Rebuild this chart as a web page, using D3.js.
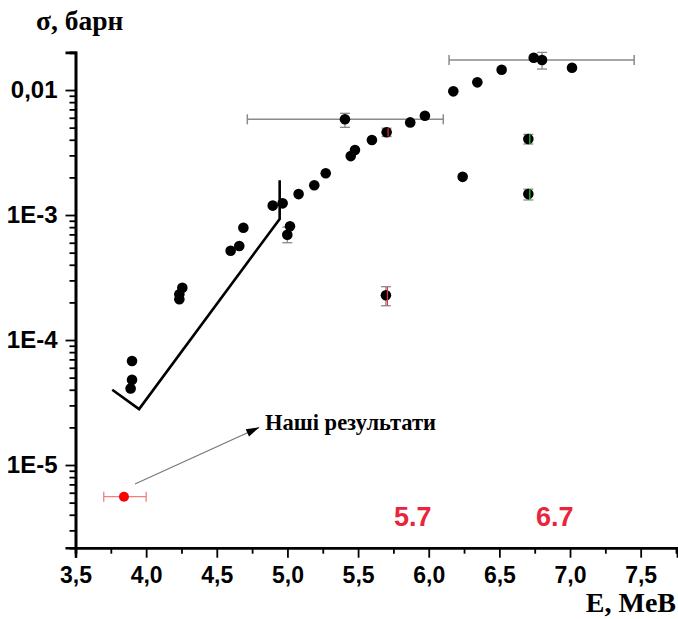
<!DOCTYPE html>
<html><head><meta charset="utf-8">
<script src="https://cdn.jsdelivr.net/npm/d3@7"></script>
<style>
html,body{margin:0;padding:0;background:#fff;}
svg{display:block;}
</style></head>
<body>
<svg id="chart" width="678" height="619"></svg>
<script>
// ---- data ----
const xTickValues = [3.5, 4.0, 4.5, 5.0, 5.5, 6.0, 6.5, 7.0, 7.5];
const xTickLabels = ["3,5", "4,0", "4,5", "5,0", "5,5", "6,0", "6,5", "7,0", "7,5"];
const yTickValues = [1e-5, 1e-4, 1e-3, 1e-2];
const yTickLabels = ["1E-5", "1E-4", "1E-3", "0,01"];

const energy = [3.90, 3.90, 3.89, 4.256, 4.235, 4.235, 4.598, 4.659, 4.688, 4.896, 4.966, 4.999, 5.018, 5.079, 5.19, 5.271,
                5.407, 5.448, 5.478, 5.598, 5.702, 5.869, 5.973, 6.174, 6.344, 6.516, 6.743, 6.802, 7.014, 6.240, 6.705, 6.705, 5.697];
const sigma = [6.8e-5, 4.8e-5, 4.1e-5, 2.62e-4, 2.32e-4, 2.12e-4, 5.18e-4, 5.65e-4, 7.91e-4, 1.19e-3, 1.24e-3, 6.96e-4, 8.12e-4, 1.47e-3, 1.73e-3, 2.16e-3,
               5.83e-3, 2.96e-3, 3.31e-3, 3.98e-3, 4.59e-3, 5.51e-3, 6.23e-3, 9.76e-3, 1.152e-2, 1.454e-2, 1.813e-2, 1.738e-2, 1.508e-2, 2.02e-3, 4.06e-3, 1.47e-3, 2.28e-4];

// vertical error bars: energy, low, high, colour of the bar
const vErrE    = [5.407, 4.999, 5.697, 5.702, 6.705, 6.705, 6.802];
const vErrLow  = [5.03e-3, 6.0e-4, 1.88e-4, 4.25e-3, 3.70e-3, 1.32e-3, 1.472e-2];
const vErrHigh = [6.51e-3, 8.0e-4, 2.67e-4, 4.95e-3, 4.42e-3, 1.61e-3, 2.0e-2];
const vErrColor = ["#888", "#888", "#e8303a", "#e8303a", "#2ecc40", "#2ecc40", "#888"];

// horizontal error bars: sigma, low energy, high energy
const hErrSigma = [5.83e-3, 1.735e-2];
const hErrLow   = [4.716, 6.144];
const hErrHigh  = [6.103, 7.454];

// our result
const ourE = [3.843];
const ourSigma = [5.58e-6];
const ourELow = [3.70];
const ourEHigh = [4.00];

// reference curve (solid black polyline)
const curveE = [3.76, 3.95, 4.945, 4.945];
const curveSigma = [4.0e-5, 2.8e-5, 9.3e-4, 1.9e-3];

// annotation arrow
const arrowE = [3.921, 4.80];
const arrowSigma = [7.05e-6, 2.0e-5];

// ---- chart ----
const svg = d3.select("#chart");
const x = d3.scaleLinear().domain([3.5, 7.76]).range([75.5, 677.4]);
const y = d3.scaleLog().domain([2.18e-6, 0.02]).range([547.7, 52.4]);

const sans = "'Liberation Sans', Arial, sans-serif";
const serif = "'Liberation Serif', 'Times New Roman', serif";

// minor ticks
const yMinor = [];
for (let e = -6; e <= -2; e++) for (let m = 2; m <= 9; m++) {
  const v = m * Math.pow(10, e);
  if (v >= 2.18e-6 && v <= 0.0201) yMinor.push(v);
}
const xMinor = d3.range(3.75, 7.76, 0.5);

const gY = svg.append("g").attr("transform", "translate(75.5,0)");
gY.call(d3.axisLeft(y).tickValues(yMinor).tickSize(6).tickFormat(""));
gY.append("g").call(d3.axisLeft(y).tickValues(yTickValues).tickSize(10).tickPadding(8)
   .tickFormat((d, i) => yTickLabels[i]));
gY.selectAll(".domain").attr("stroke", "#000").attr("stroke-width", 2.6);
gY.selectAll(".tick line").attr("stroke", "#000").attr("stroke-width", 1.8);
gY.selectAll("text").attr("font-family", sans).attr("font-weight", "bold").attr("font-size", 24).attr("fill", "#000");

const gX = svg.append("g").attr("transform", "translate(0,547.7)");
gX.call(d3.axisBottom(x).tickValues(xMinor).tickSize(6).tickFormat(""));
gX.append("g").call(d3.axisBottom(x).tickValues(xTickValues).tickSize(10).tickPadding(9)
   .tickFormat((d, i) => xTickLabels[i]));
gX.selectAll(".domain").attr("stroke", "#000").attr("stroke-width", 2.6);
gX.selectAll(".tick line").attr("stroke", "#000").attr("stroke-width", 1.8);
gX.selectAll("text").attr("font-family", sans).attr("font-weight", "bold").attr("font-size", 23).attr("fill", "#000");

// reference curve
const line = d3.line().x((d, i) => x(curveE[i])).y((d, i) => y(curveSigma[i]));
svg.append("path").datum(curveE).attr("d", line).attr("fill", "none")
  .attr("stroke", "#000").attr("stroke-width", 2.6).attr("stroke-linejoin", "miter");

// horizontal error bars
const hg = svg.append("g").attr("stroke", "#8a8a8a").attr("stroke-width", 1.5);
hErrSigma.forEach((s, i) => {
  const yy = y(s), x0 = x(hErrLow[i]), x1 = x(hErrHigh[i]);
  hg.append("line").attr("x1", x0).attr("x2", x1).attr("y1", yy).attr("y2", yy);
  hg.append("line").attr("x1", x0).attr("x2", x0).attr("y1", yy - 5).attr("y2", yy + 5);
  hg.append("line").attr("x1", x1).attr("x2", x1).attr("y1", yy - 5).attr("y2", yy + 5);
});

// vertical error bar caps (gray) + stems
const vg = svg.append("g");
vErrE.forEach((e, i) => {
  const xx = x(e), y0 = y(vErrLow[i]), y1 = y(vErrHigh[i]);
  vg.append("line").attr("x1", xx).attr("x2", xx).attr("y1", y0).attr("y2", y1)
    .attr("stroke", "#888").attr("stroke-width", 1.3);
  [y0, y1].forEach(c => vg.append("line").attr("x1", xx - 5).attr("x2", xx + 5).attr("y1", c).attr("y2", c)
    .attr("stroke", "#8a8a8a").attr("stroke-width", 1.3));
});

// points
svg.append("g").selectAll("circle").data(energy).join("circle")
  .attr("cx", d => x(d)).attr("cy", (d, i) => y(sigma[i])).attr("r", 5.3).attr("fill", "#000");

// coloured stems over the points
vErrE.forEach((e, i) => {
  if (vErrColor[i] === "#888") return;
  const xx = x(e) + 1.5;
  svg.append("line").attr("x1", xx).attr("x2", xx).attr("y1", y(vErrLow[i])).attr("y2", y(vErrHigh[i]))
    .attr("stroke", vErrColor[i]).attr("stroke-width", 1.2);
});

// our result
const rg = svg.append("g");
ourE.forEach((e, i) => {
  const yy = y(ourSigma[i]), x0 = x(ourELow[i]), x1 = x(ourEHigh[i]);
  rg.append("line").attr("x1", x0).attr("x2", x1).attr("y1", yy).attr("y2", yy).attr("stroke", "#f08080").attr("stroke-width", 1.3);
  [x0, x1].forEach(c => rg.append("line").attr("x1", c).attr("x2", c).attr("y1", yy - 5).attr("y2", yy + 5)
    .attr("stroke", "#f08080").attr("stroke-width", 1.3));
  rg.append("circle").attr("cx", x(e)).attr("cy", yy).attr("r", 5).attr("fill", "#ff0000");
});

// annotation arrow
const ax0 = x(arrowE[0]), ay0 = y(arrowSigma[0]), ax1 = x(arrowE[1]), ay1 = y(arrowSigma[1]);
svg.append("line").attr("x1", ax0).attr("y1", ay0).attr("x2", ax1).attr("y2", ay1)
  .attr("stroke", "#777").attr("stroke-width", 1.2);
const ang = Math.atan2(ay1 - ay0, ax1 - ax0);
const L = 13, W = 4;
const p1 = [ax1 - L * Math.cos(ang) + W * Math.sin(ang), ay1 - L * Math.sin(ang) - W * Math.cos(ang)];
const p2 = [ax1 - L * Math.cos(ang) - W * Math.sin(ang), ay1 - L * Math.sin(ang) + W * Math.cos(ang)];
svg.append("path").attr("d", `M${ax1},${ay1}L${p1[0]},${p1[1]}L${p2[0]},${p2[1]}Z`).attr("fill", "#000");

svg.append("text").attr("x", 265).attr("y", 430).text("Наші результати")
  .attr("font-family", serif).attr("font-weight", "bold").attr("font-size", 22.5).attr("fill", "#000");

// labels
svg.append("text").attr("x", 36).attr("y", 30).text("σ, барн")
  .attr("font-family", serif).attr("font-weight", "bold").attr("font-size", 27.5).attr("fill", "#000");
svg.append("text").attr("x", 676).attr("y", 612).attr("text-anchor", "end").text("E, MeB")
  .attr("font-family", serif).attr("font-weight", "bold").attr("font-size", 28).attr("fill", "#000");

svg.append("text").attr("x", 394).attr("y", 526).text("5.7")
  .attr("font-family", sans).attr("font-weight", "bold").attr("font-size", 27).attr("fill", "#e8253a");
svg.append("text").attr("x", 536).attr("y", 526).text("6.7")
  .attr("font-family", sans).attr("font-weight", "bold").attr("font-size", 27).attr("fill", "#e8253a");
</script>
</body></html>
